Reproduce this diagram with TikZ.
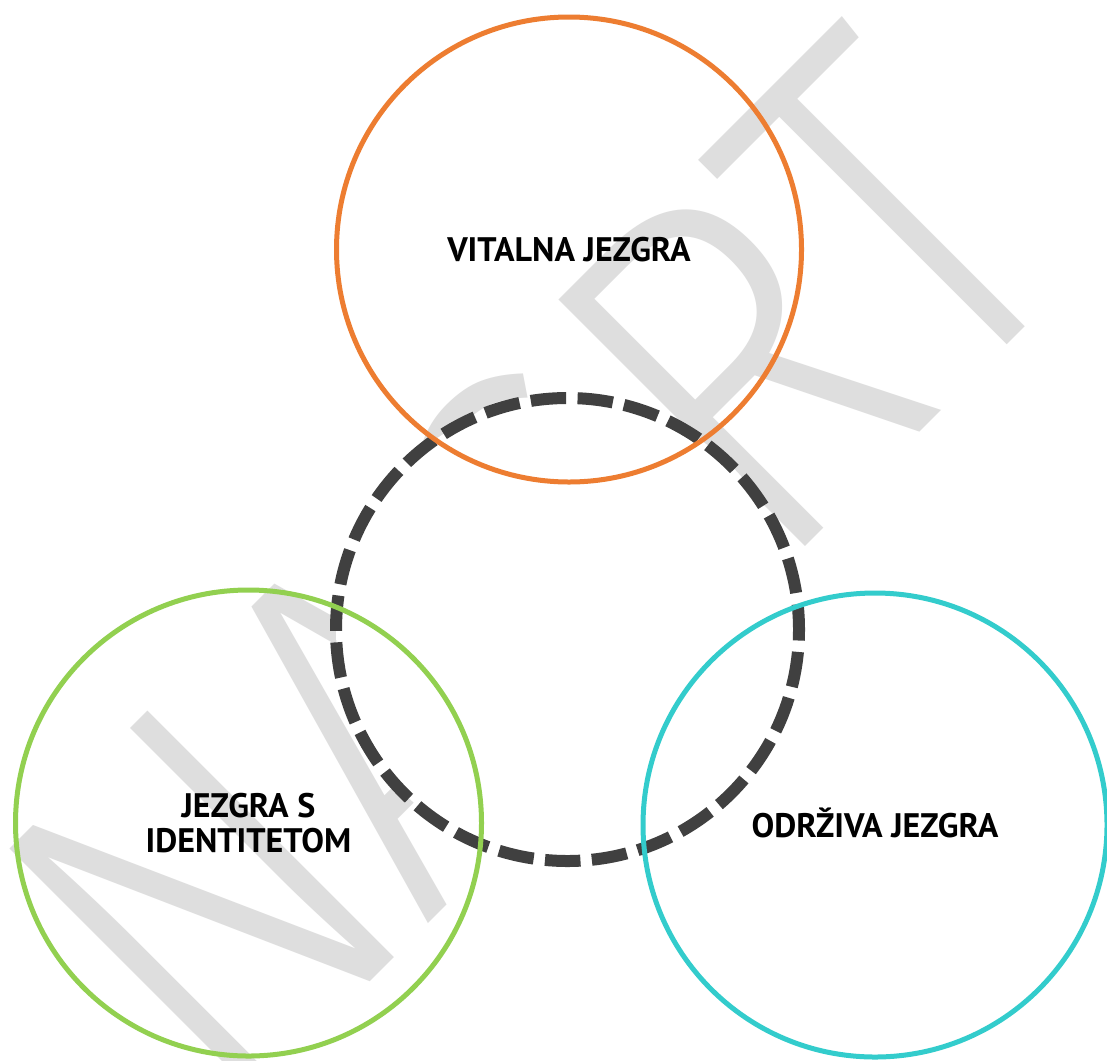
\documentclass[tikz,border=0pt]{standalone}
\usepackage{fontspec}
\usepackage{graphicx}
\setmainfont{PT Sans}
\IfFontExistsTF{Fira Sans Light}{\newfontfamily\wmfont{Fira Sans Light}}{\newfontfamily\wmfont{Fira Sans}}
\newcommand{\wmch}[1]{\makebox[0pt][c]{\scalebox{0.85}[1]{#1}}}
\definecolor{corange}{HTML}{ED7D31}
\definecolor{cgreen}{HTML}{92D050}
\definecolor{ccyan}{HTML}{33CCCC}
\definecolor{cdash}{HTML}{404040}
\definecolor{cwm}{HTML}{DEDEDE}
\tikzset{
  ring/.style={circle, line width=5pt, inner sep=0pt, text=black, align=center,
    font=\bfseries\fontsize{34}{35}\selectfont},
  corering/.style={circle, draw=cdash, fill=white, line width=12pt,
    dash pattern=on 35.5pt off 11.4pt, dash phase=10.2pt, inner sep=0pt},
  wmtext/.style={text=cwm, font=\wmfont\fontsize{509}{509}\selectfont,
    inner sep=0pt, rotate=45, anchor=base west},
}
\begin{document}
\begin{tikzpicture}[x=1pt,y=-1pt]
\useasboundingbox (0,0) rectangle (1107,1060);
\fill[white] (0,0) rectangle (1107,1060);
% watermark (letters placed by their centres along the rotated baseline)
\node[wmtext] (wmark) at (325.3,1026.8)
  {\wmch{N}\hspace*{261pt}\wmch{A}\hspace*{235pt}\wmch{C}\hspace*{263pt}\wmch{R}\hspace*{218pt}\wmch{T}};
% dashed core
\node[corering, minimum size=463pt] (core) at (567.5,629.5) {};
% three cores
\node[ring, draw=corange, minimum size=465pt, text height=24pt, text depth=0pt] (vital) at (569,249.5) {VITALNA JEZGRA};
\node[ring, draw=cgreen, minimum size=466pt] (ident) at (248.5,823) {JEZGRA S\\IDENTITETOM};
\node[ring, draw=ccyan, minimum size=464pt, text height=24pt, text depth=0pt] (odrz) at (875,825) {ODRŽIVA JEZGRA};
\end{tikzpicture}
\end{document}
